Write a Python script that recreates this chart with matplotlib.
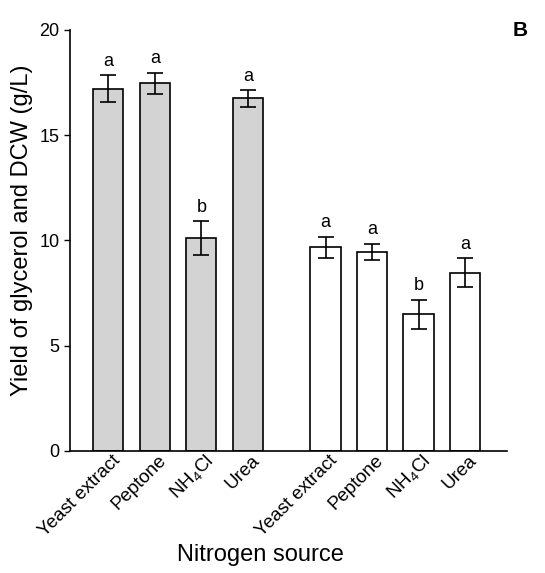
import matplotlib
matplotlib.use("Agg")
import matplotlib.pyplot as plt
import matplotlib.transforms as mtrans
import numpy as np

plt.rcParams['font.family'] = ['Liberation Sans', 'DejaVu Sans']
plt.rcParams['mathtext.fontset'] = 'custom'
plt.rcParams['mathtext.rm'] = 'Liberation Sans'
plt.rcParams['mathtext.it'] = 'Liberation Sans:italic'

labels = ["Yeast extract", "Peptone", "NH$_4$Cl", "Urea"]
glycerol = [17.2, 17.47, 10.1, 16.75]
glycerol_err = [0.65, 0.5, 0.8, 0.4]
glycerol_sig = ["a", "a", "b", "a"]
dcw = [9.68, 9.47, 6.48, 8.47]
dcw_err = [0.5, 0.38, 0.7, 0.67]
dcw_sig = ["a", "a", "b", "a"]

x1 = np.arange(4)
x2 = np.arange(4) + 4.67
w = 0.65

fig = plt.figure(figsize=(5.45, 5.73), dpi=100)
ax = fig.add_axes([0.128, 0.213, 0.802, 0.735])

ekw = dict(elinewidth=1.2, capthick=1.2)
ax.bar(x1, glycerol, w, color="#d3d3d3", edgecolor="black", linewidth=1.2,
       yerr=glycerol_err, capsize=6, error_kw=ekw)
ax.bar(x2, dcw, w, color="white", edgecolor="black", linewidth=1.2,
       yerr=dcw_err, capsize=6, error_kw=ekw)

for x, v, e, s in zip(x1, glycerol, glycerol_err, glycerol_sig):
    ax.text(x, v + e + 0.25, s, ha="center", va="bottom", fontsize=13)
for x, v, e, s in zip(x2, dcw, dcw_err, dcw_sig):
    ax.text(x, v + e + 0.25, s, ha="center", va="bottom", fontsize=13)

ax.set_xlim(-0.83, 8.57)
ax.set_ylim(0, 20)
ax.set_yticks([0, 5, 10, 15, 20])
ax.tick_params(axis="y", labelsize=13, length=4, width=1)
ax.set_xticks(np.concatenate([x1, x2]))
ax.set_xticklabels(labels + labels, rotation=45, ha="right", va="center",
                   rotation_mode="anchor", fontsize=13.5)
ax.tick_params(axis="x", length=0, pad=5)
shift = mtrans.ScaledTranslation(0.09, 0, fig.dpi_scale_trans)
for lab in ax.get_xticklabels():
    lab.set_transform(lab.get_transform() + shift)

for sp in ["top", "right"]:
    ax.spines[sp].set_visible(False)
ax.spines["left"].set_linewidth(1.2)
ax.spines["bottom"].set_linewidth(1.2)

ax.set_ylabel("Yield of glycerol and DCW (g/L)", fontsize=17)
ax.yaxis.set_label_coords(-0.084, 0.525)
ax.set_xlabel("Nitrogen source", fontsize=17)
ax.xaxis.set_label_coords(0.437, -0.22)

fig.text(0.955, 0.947, "B", fontsize=15, fontweight="bold", ha="center", va="center")

fig.savefig("out.png", dpi=100)
